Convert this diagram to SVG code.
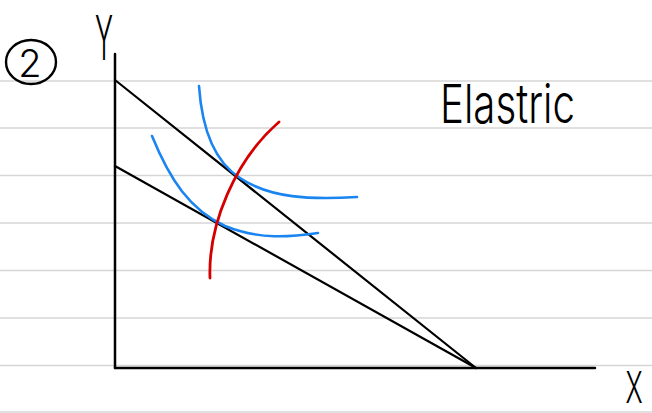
<svg xmlns="http://www.w3.org/2000/svg" width="652" height="413" viewBox="0 0 652 413">
<style>
.rule{stroke:#d6d6d6;stroke-width:1.5}
.ax{stroke:#000;stroke-width:2.5;fill:none;stroke-linecap:round}
.bl{stroke:#000;stroke-width:2.2;fill:none;stroke-linecap:round}
.ic{stroke:#1a84f0;stroke-width:2.6;fill:none;stroke-linecap:round}
.ep{stroke:#d40000;stroke-width:2.8;fill:none;stroke-linecap:round}
.hand{font-family:Inter,"Liberation Sans",sans-serif;font-weight:300;fill:#000}
</style>
<rect width="652" height="413" fill="#fff"/>
<g id="rules">
<line class="rule" x1="0" y1="81" x2="652" y2="81"/>
<line class="rule" x1="0" y1="128" x2="652" y2="128"/>
<line class="rule" x1="0" y1="175.5" x2="652" y2="175.5"/>
<line class="rule" x1="0" y1="223" x2="652" y2="223"/>
<line class="rule" x1="0" y1="270.5" x2="652" y2="270.5"/>
<line class="rule" x1="0" y1="318" x2="652" y2="318"/>
<line class="rule" x1="0" y1="365.5" x2="652" y2="365.5"/>
<line class="rule" x1="0" y1="412" x2="652" y2="412"/>
</g>
<g id="label-2">
<ellipse cx="31" cy="62" rx="25" ry="22" fill="none" stroke="#000" stroke-width="2.4"/>
<text class="hand" x="30" y="77" font-size="38" text-anchor="middle">2</text>
</g>
<g id="axis-y">
<line class="ax" x1="115" y1="54" x2="115" y2="368"/>
<text class="hand" transform="translate(104,60) scale(0.75,1.7)" font-size="36" text-anchor="middle">Y</text>
</g>
<g id="axis-x">
<line class="ax" x1="115" y1="368" x2="595" y2="368"/>
<text class="hand" transform="translate(634,403) scale(0.72,1.2)" font-size="36" text-anchor="middle">X</text>
</g>
<g id="title">
<text class="hand" x="440" y="123" font-size="54" textLength="135" lengthAdjust="spacingAndGlyphs">Elastric</text>
</g>
<g id="connectors">
<line id="budget-1" class="bl" x1="115" y1="80" x2="476" y2="368"/>
<line id="budget-2" class="bl" x1="115" y1="166" x2="476" y2="368"/>
<path id="ic-1" class="ic" d="M199,86 C202,130 215,162 240,178 C270,198 310,200 357,197"/>
<path id="ic-2" class="ic" d="M152,136 C170,180 190,210 225,226 C260,240 290,237 318,233"/>
<path id="ep" class="ep" d="M210,278 C208,225 235,160 279,122"/>
</g>
</svg>
